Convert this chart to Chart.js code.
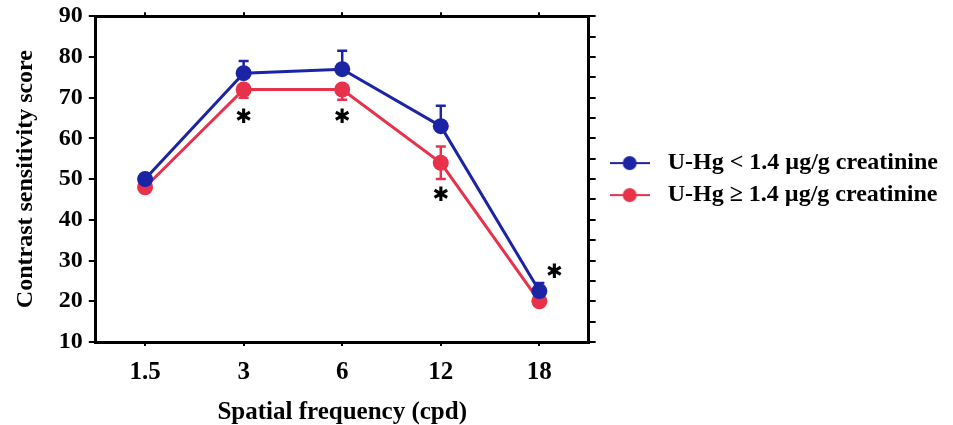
<!DOCTYPE html>
<html>
<head>
<meta charset="utf-8">
<script src="https://cdn.jsdelivr.net/npm/chart.js@4/dist/chart.umd.min.js"></script>
<style>
  html, body { margin: 0; padding: 0; background: #fff; }
  #wrap { width: 953px; height: 425px; }
</style>
</head>
<body>
<div id="wrap"><canvas id="chart"></canvas></div>
<script>
const frequencies = ['1.5', '3', '6', '12', '18'];

const lowHg = [50, 76, 77, 63, 22.5];
const highHg = [48, 72, 72, 54, 20];

// error bar lengths (only the visible side)
const lowHgErrUp = [1, 3, 4.5, 5, 2];
const highHgErrUp = [0, 0, 0, 4, 0];
const highHgErrDown = [1, 2, 2.5, 4, 1];

// where the significance stars sit (score units), null = no star
const starLevels = [null, 65, 65, 46, 27];

const yTicks = [10, 20, 30, 40, 50, 60, 70, 80, 90];

const blue = '#1c24a6';
const red = '#e8324c';
const serif = "'Liberation Serif', 'Times New Roman', serif";

function legendMarker(color) {
    const c = document.createElement('canvas');
    c.width = 40; c.height = 16;
    const g = c.getContext('2d');
    g.strokeStyle = color;
    g.lineWidth = 2;
    g.beginPath(); g.moveTo(0, 8); g.lineTo(40, 8); g.stroke();
    g.fillStyle = color;
    g.beginPath(); g.arc(20, 8, 7, 0, Math.PI * 2); g.fill();
    return c;
}
const markers = [legendMarker(blue), legendMarker(red)];

const errorBars = {
    id: 'errorBars',
    afterDatasetDraw(chart, args) {
        const ctx = chart.ctx;
        const y = chart.scales.y;
        const meta = args.meta;
        const ds = chart.data.datasets[args.index];
        ctx.save();
        ctx.strokeStyle = ds.borderColor;
        ctx.lineWidth = 2.5;
        meta.data.forEach((pt, i) => {
            const v = ds.data[i];
            const ups = ds.errUp ? ds.errUp[i] : 0;
            const downs = ds.errDown ? ds.errDown[i] : 0;
            [[ups, 1], [downs, -1]].forEach(([e, s]) => {
                if (!e) return;
                const yy = y.getPixelForValue(v + s * e);
                ctx.beginPath();
                ctx.moveTo(pt.x, pt.y);
                ctx.lineTo(pt.x, yy);
                ctx.moveTo(pt.x - 5, yy);
                ctx.lineTo(pt.x + 5, yy);
                ctx.stroke();
            });
        });
        ctx.restore();
    }
};

const stars = {
    id: 'stars',
    afterDraw(chart) {
        const ctx = chart.ctx;
        const x = chart.scales.x;
        const y = chart.scales.y;
        ctx.save();
        ctx.fillStyle = '#000';
        ctx.font = "bold 20px 'DejaVu Sans'";
        ctx.textAlign = 'center';
        ctx.textBaseline = 'middle';
        starLevels.forEach((v, i) => {
            if (v === null) return;
            // the last star is set off to the right of its point
            const dx = i === starLevels.length - 1 ? 15 : 0;
            ctx.fillText('\u2731', x.getPixelForValue(i) + dx, y.getPixelForValue(v));
        });
        ctx.restore();
    }
};

const axisBorder = { display: true, color: '#000', width: 3 };
const tickGrid = { drawOnChartArea: false, drawTicks: true, tickLength: 7, color: '#000', lineWidth: 2 };

function fiveSteps(scale) {
    const t = [];
    for (let v = 10; v <= 90; v += 5) t.push({ value: v });
    scale.ticks = t;
}

new Chart(document.getElementById('chart'), {
    type: 'line',
    data: {
        labels: frequencies,
        datasets: [
            {
                label: 'U-Hg < 1.4 \u00b5g/g creatinine',
                data: lowHg,
                errUp: lowHgErrUp,
                borderColor: blue,
                backgroundColor: blue,
                borderWidth: 3,
                pointRadius: 8,
                pointBackgroundColor: blue,
                pointBorderWidth: 0,
                tension: 0
            },
            {
                label: 'U-Hg \u2265 1.4 \u00b5g/g creatinine',
                data: highHg,
                errUp: highHgErrUp,
                errDown: highHgErrDown,
                borderColor: red,
                backgroundColor: red,
                borderWidth: 3,
                pointRadius: 8,
                pointBackgroundColor: red,
                pointBorderWidth: 0,
                tension: 0
            }
        ]
    },
    options: {
        responsive: true,
        maintainAspectRatio: false,
        animation: false,
        layout: { padding: { left: 11, top: 0, right: 5, bottom: 0 } },
        plugins: {
            legend: {
                position: 'right',
                fullSize: false,
                maxWidth: 400,
                labels: {
                    usePointStyle: true,
                    pointStyleWidth: 52,
                    color: '#000',
                    padding: 8,
                    font: { family: serif, size: 24, weight: 'bold' },
                    generateLabels(chart) {
                        const items = Chart.defaults.plugins.legend.labels.generateLabels(chart);
                        items.forEach((it, i) => { it.pointStyle = markers[i]; });
                        return items;
                    }
                }
            },
            tooltip: { enabled: false }
        },
        scales: {
            x: {
                type: 'category',
                offset: true,
                border: axisBorder,
                grid: Object.assign({}, tickGrid, { tickLength: 4 }),
                ticks: { color: '#000', padding: 12, font: { family: serif, size: 25, weight: 'bold' } },
                title: {
                    display: true,
                    text: 'Spatial frequency (cpd)',
                    color: '#000',
                    padding: { top: 0, bottom: 0 },
                    font: { family: serif, size: 25, weight: 'bold', lineHeight: 1.0 }
                }
            },
            x2: {
                type: 'category',
                position: 'top',
                labels: frequencies,
                offset: true,
                border: axisBorder,
                grid: Object.assign({}, tickGrid, { tickLength: 4 }),
                ticks: { display: false }
            },
            y: {
                min: 10,
                max: 90,
                border: axisBorder,
                grid: tickGrid,
                afterBuildTicks: fiveSteps,
                ticks: {
                    color: '#000',
                    padding: 6,
                    font: { family: serif, size: 24, weight: 'bold', lineHeight: 0.85 },
                    callback: (v) => yTicks.includes(v) ? String(v) : ''
                },
                title: {
                    display: true,
                    text: 'Contrast sensitivity score',
                    color: '#000',
                    padding: { top: 0, bottom: 13 },
                    font: { family: serif, size: 24, weight: 'bold' }
                }
            },
            y2: {
                position: 'right',
                min: 10,
                max: 90,
                border: axisBorder,
                grid: tickGrid,
                afterBuildTicks: fiveSteps,
                ticks: { display: false }
            }
        }
    },
    plugins: [errorBars, stars]
});
</script>
</body>
</html>
